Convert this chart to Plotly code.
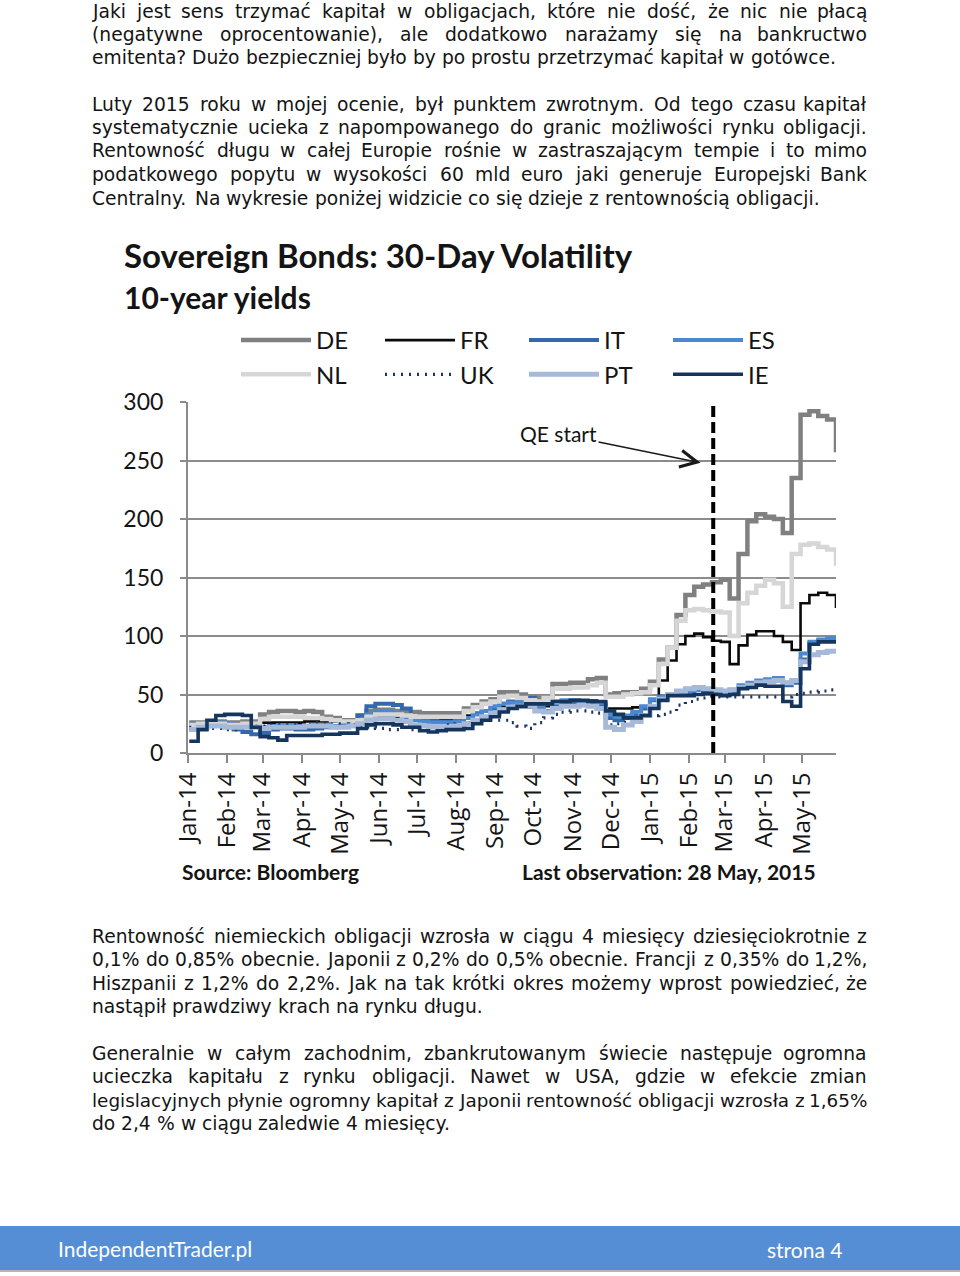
import unicodedata
import pandas as pd
import plotly.graph_objects as go

# ---------------- page geometry (pixels) ----------------
W, H = 960, 1276
PLOT_L, PLOT_R, PLOT_T, PLOT_B = 188, 836, 402, 753


def PX(px):
    return (px - PLOT_L) / (PLOT_R - PLOT_L)


def PY(py):
    return (PLOT_B - py) / (PLOT_B - PLOT_T)


# ---------------- data ----------------
week_start = "2014-01-02"          # weekly observations, Thursdays
n_weeks = 74                       # through 28 May 2015
dates = pd.date_range(week_start, periods=n_weeks, freq="7D")

de = [26, 26, 27, 27, 26, 26, 27, 27,
      33, 35, 36, 36, 35, 36, 35,
      31, 30, 28, 28, 32,
      36, 37, 37, 36, 35,
      35, 34, 34, 34, 34, 34,
      38, 41, 44, 46,
      52, 52, 50, 48, 47, 47,
      59, 59, 60, 60, 63, 64,
      50, 51, 52, 52, 55,
      61, 80, 90, 118,
      135, 142, 144, 146, 148, 132,
      170, 198, 204, 202, 200, 188, 235,
      289, 292, 288, 285, 257]
nl = [24, 25, 25, 25, 24, 24, 25, 25,
      29, 31, 31, 31, 31, 30, 30,
      29, 28, 27, 27, 28,
      31, 33, 33, 33, 32,
      31, 31, 31, 31, 31, 31,
      36, 39, 42, 44,
      48, 49, 47, 45, 44, 47,
      55, 55, 56, 56, 58, 60,
      48, 48, 50, 51, 52,
      58, 76, 90, 113,
      122, 123, 122, 121, 120, 100,
      128, 137, 143, 148, 145, 125, 170,
      178, 179, 176, 174, 160]
fr = [24, 24, 25, 25, 24, 24, 25, 25,
      26, 26, 26, 26, 26, 27, 27,
      27, 27, 26, 26, 28,
      30, 31, 31, 30, 30,
      29, 29, 28, 28, 29, 30,
      32, 34, 36, 38,
      40, 40, 39, 39, 39, 40,
      44, 44, 45, 45, 45, 44,
      38, 38, 38, 39, 40,
      45, 62, 79, 93,
      100, 102, 99, 96, 95, 76,
      92, 101, 104, 104, 100, 95, 88,
      128, 135, 137, 135, 124]
it = [20, 22, 24, 24, 22, 20, 18, 16,
      17, 20, 21, 21, 20, 20, 21,
      22, 22, 23, 26, 32,
      40, 42, 42, 41, 38,
      30, 29, 28, 27, 27, 28,
      30, 34, 36, 38,
      42, 44, 45, 47, 38, 36,
      40, 42, 43, 42, 42, 41,
      30, 28, 30, 33, 38,
      45, 48, 50, 52,
      52, 54, 53, 52, 50, 52,
      56, 58, 60, 61, 62, 58, 60,
      80, 94, 96, 97, 96]
es = [25, 25, 26, 26, 25, 24, 23, 22,
      22, 23, 24, 24, 23, 23, 24,
      24, 23, 23, 25, 28,
      33, 35, 35, 33, 30,
      28, 27, 26, 26, 26, 27,
      30, 33, 36, 40,
      42, 43, 43, 42, 40, 42,
      44, 45, 45, 44, 44, 43,
      33, 31, 32, 35, 40,
      46, 48, 50, 52,
      53, 55, 54, 53, 52, 54,
      58, 60, 62, 63, 64, 60, 62,
      85, 95, 97, 98, 97]
pt = [20, 22, 23, 23, 22, 22, 22, 22,
      21, 22, 22, 22, 22, 23, 23,
      23, 22, 22, 23, 25,
      28, 29, 29, 28, 27,
      24, 23, 22, 22, 22, 23,
      25, 28, 31, 34,
      37, 39, 40, 40, 36, 35,
      38, 40, 40, 41, 40, 38,
      22, 20, 24, 27, 32,
      40, 46, 50, 53,
      55, 56, 55, 54, 53, 54,
      56, 58, 60, 61, 62, 60, 62,
      78, 84, 86, 87, 86]
ie = [10, 20, 28, 32, 33, 33, 32, 22,
      14, 13, 11, 15, 15, 15, 15,
      16, 16, 17, 17, 21,
      24, 25, 25, 24, 22,
      22, 19, 18, 19, 20, 20,
      21, 25, 28, 31,
      35, 38, 40, 42, 42, 42,
      44, 44, 45, 45, 44, 44,
      36, 33, 30, 30, 32,
      38, 45, 49, 49,
      49, 50, 51, 50, 49, 50,
      55, 56, 58, 57, 57, 44, 40,
      72, 93, 95, 95, 94]
uk = [22, 21, 21, 21, 20, 20, 21, 23,
      23, 24, 24, 24, 24, 25, 26,
      26, 25, 25, 24, 23,
      22, 21, 20, 20, 24,
      20, 20, 20, 22, 24, 25,
      26, 27, 28, 28,
      28, 26, 23, 21, 26, 30,
      33, 35, 36, 36, 35, 34,
      24, 25, 26, 28, 31,
      32, 33, 35, 41,
      44, 46, 47, 48, 48, 48,
      48, 48, 48, 48, 48, 48, 50,
      51, 52, 53, 54, 55]

month_ticks = ["2014-01-01", "2014-02-01", "2014-03-01", "2014-04-01", "2014-05-01",
               "2014-06-01", "2014-07-01", "2014-08-01", "2014-09-01", "2014-10-01",
               "2014-11-01", "2014-12-01", "2015-01-01", "2015-02-01", "2015-03-01",
               "2015-04-01", "2015-05-01"]
month_labels = ["Jan-14", "Feb-14", "Mar-14", "Apr-14", "May-14", "Jun-14", "Jul-14",
                "Aug-14", "Sep-14", "Oct-14", "Nov-14", "Dec-14", "Jan-15", "Feb-15",
                "Mar-15", "Apr-15", "May-15"]
y_ticks = [0, 50, 100, 150, 200, 250, 300]
qe_start = "2015-02-20"
x_start, x_end = "2014-01-01", "2015-05-28"

# ---------------- series styling ----------------
series = [
    ("DE", de, "#808080", 4.5, "solid"),
    ("FR", fr, "#0a0a0a", 2.6, "solid"),
    ("IT", it, "#3468AC", 4.0, "solid"),
    ("ES", es, "#4A88CF", 4.0, "solid"),
    ("NL", nl, "#d6d6d6", 4.5, "solid"),
    ("UK", uk, "#1c3660", 3.2, "2px,6px"),
    ("PT", pt, "#a6b9d9", 5.0, "solid"),
    ("IE", ie, "#16355c", 3.6, "solid"),
]

fig = go.Figure()
for name, vals, col, wd, dash in series:
    fig.add_trace(go.Scatter(
        x=dates, y=vals, name=name, mode="lines",
        line=dict(color=col, width=wd, dash=dash, shape="hv"),
    ))

CHART_FONT = "Lato"
TXT = "#141414"

fig.update_layout(
    width=W, height=H,
    margin=dict(l=PLOT_L, r=W - PLOT_R, t=PLOT_T, b=H - PLOT_B, pad=0),
    paper_bgcolor="white", plot_bgcolor="white",
    showlegend=True,
    legend=dict(
        orientation="h", x=PX(236), xanchor="left", y=PY(318), yanchor="top",
        entrywidth=59, entrywidthmode="pixels", itemwidth=70,
        font=dict(family=CHART_FONT, size=24, color=TXT),
        bgcolor="rgba(0,0,0,0)", traceorder="normal",
    ),
    xaxis=dict(
        type="date", range=[x_start, x_end],
        tickmode="array", tickvals=month_ticks, ticktext=month_labels,
        tickangle=-90, ticks="outside", ticklen=8, tickwidth=1.5, tickcolor="#8a8a8a",
        showline=True, linecolor="#8a8a8a", linewidth=2,
        showgrid=False, zeroline=False, ticklabelstandoff=0,
        tickfont=dict(family="Open Sans", size=24, color=TXT),
    ),
    yaxis=dict(
        range=[0, 300], tickmode="array", tickvals=y_ticks,
        ticks="outside", ticklen=6, tickwidth=1.5, tickcolor="#8a8a8a",
        showline=True, linecolor="#8a8a8a", linewidth=2,
        showgrid=True, gridcolor="#8c8c8c", gridwidth=1.5,
        zeroline=False, ticklabelstandoff=12,
        tickfont=dict(family=CHART_FONT, size=23, color=TXT),
    ),
)

shapes = []
# QE start dashed vertical line
shapes.append(dict(type="line", xref="x", yref="y", x0=qe_start, x1=qe_start,
                   y0=0, y1=300, line=dict(color="black", width=4, dash="11px,5px")))
# footer bar
shapes.append(dict(type="rect", xref="paper", yref="paper", x0=PX(0), x1=PX(W),
                   y0=PY(1270), y1=PY(1226), fillcolor="#558ED5", line=dict(width=0),
                   layer="below"))
shapes.append(dict(type="line", xref="paper", yref="paper", x0=PX(0), x1=PX(W),
                   y0=PY(1271), y1=PY(1271), line=dict(color="#b5b5b5", width=2)))
fig.update_layout(shapes=shapes)

ann = []


def add_text(text, px, py, size, family, xanchor="left", color=TXT, bold=False, pad=1):
    if bold:
        text = "<b>" + text + "</b>"
    ann.append(dict(text=text, x=PX(px), y=PY(py), xref="paper", yref="paper",
                    xanchor=xanchor, yanchor="middle", showarrow=False, borderpad=pad,
                    font=dict(family=family, size=size, color=color)))


# chart titles
add_text("Sovereign Bonds: 30-Day Volatility", 122, 255, 33, CHART_FONT, bold=True)
add_text("10-year yields", 122, 297, 30, CHART_FONT, bold=True)
add_text("Source: Bloomberg", 180, 871, 21, CHART_FONT, bold=True)
add_text("Last observation: 28 May, 2015", 818, 871, 21, CHART_FONT, xanchor="right", bold=True)

# QE start arrow annotation
ann.append(dict(text="QE start", x="2015-02-10", y=248, xref="x", yref="y",
                ax=-142, ay=-29, axref="pixel", ayref="pixel",
                showarrow=True, arrowhead=5, arrowsize=2.2, arrowwidth=1.5,
                arrowcolor="#1a1a1a", standoff=0,
                font=dict(family=CHART_FONT, size=21, color=TXT)))

# footer text
add_text("IndependentTrader.pl", 56, 1248, 21, CHART_FONT, color="white")
add_text("strona 4", 844, 1249, 21, CHART_FONT, xanchor="right", color="white")

# ---------------- body text (justified word by word) ----------------
BODY_FONT = "DejaVu Sans"
BODY_SIZE = 18.7
LINE_L, LINE_R = 91, 868
MIN_GAP = 5.5
DV_W = {' ': 651, '!': 821, '%': 1946, '(': 799, ')': 799, ',': 651, '-': 739,
        '.': 651, '?': 1087, ':': 690,
        'A': 1401, 'B': 1405, 'C': 1430, 'D': 1577, 'E': 1294, 'F': 1178, 'G': 1587,
        'H': 1540, 'I': 604, 'J': 604, 'K': 1343, 'L': 1141, 'M': 1767, 'N': 1532,
        'O': 1612, 'P': 1235, 'Q': 1612, 'R': 1423, 'S': 1300, 'T': 1251, 'U': 1499,
        'V': 1401, 'W': 2025, 'X': 1403, 'Y': 1251, 'Z': 1403,
        'a': 1255, 'b': 1300, 'c': 1126, 'd': 1300, 'e': 1260, 'f': 721, 'g': 1300,
        'h': 1298, 'i': 569, 'j': 569, 'k': 1186, 'l': 569, 'm': 1995, 'n': 1298,
        'o': 1253, 'p': 1300, 'q': 1300, 'r': 842, 's': 1067, 't': 803, 'u': 1298,
        'v': 1212, 'w': 1675, 'x': 1212, 'y': 1212, 'z': 1075, 'ł': 600, 'Ł': 1180}


def char_w(c):
    if c in DV_W:
        return DV_W[c]
    if c.isdigit():
        return 1303
    base = unicodedata.normalize("NFD", c)[0]
    return DV_W.get(base, 1250)


def text_w(s, size):
    return sum(char_w(c) for c in s) * size / 2048


body_lines = [
    ("Jaki jest sens trzymać kapitał w obligacjach, które nie dość, że nic nie płacą", True, 11.5),
    ("(negatywne oprocentowanie), ale dodatkowo narażamy się na bankructwo", True, 34.5),
    ("emitenta? Dużo bezpieczniej było by po prostu przetrzymać kapitał w gotówce.", False, 57.5),
    ("Luty 2015 roku w mojej ocenie, był punktem zwrotnym. Od tego czasu kapitał", True, 104),
    ("systematycznie ucieka z napompowanego do granic możliwości rynku obligacji.", True, 127.5),
    ("Rentowność długu w całej Europie rośnie w zastraszającym tempie i to mimo", True, 151),
    ("podatkowego popytu w wysokości 60 mld euro jaki generuje Europejski Bank", True, 174.5),
    ("Centralny. Na wykresie poniżej widzicie co się dzieje z rentownością obligacji.", False, 198),
    ("Rentowność niemieckich obligacji wzrosła w ciągu 4 miesięcy dziesięciokrotnie z", True, 936),
    ("0,1% do 0,85% obecnie. Japonii z 0,2% do 0,5% obecnie. Francji z 0,35% do 1,2%,", True, 959.5),
    ("Hiszpanii z 1,2% do 2,2%. Jak na tak krótki okres możemy wprost powiedzieć, że", True, 983),
    ("nastąpił prawdziwy krach na rynku długu.", False, 1006.5),
    ("Generalnie w całym zachodnim, zbankrutowanym świecie następuje ogromna", True, 1053),
    ("ucieczka kapitału z rynku obligacji. Nawet w USA, gdzie w efekcie zmian", True, 1076.5),
    ("legislacyjnych płynie ogromny kapitał z Japonii rentowność obligacji wzrosła z 1,65%", True, 1100),
    ("do 2,4 % w ciągu zaledwie 4 miesięcy.", False, 1123.5),
]

line_w = LINE_R - LINE_L
for text, justified, py in body_lines:
    words = text.split(" ")
    fs = BODY_SIZE
    n = len(words) - 1
    widths = [text_w(w, fs) for w in words]
    if justified:
        gap = (line_w - sum(widths)) / n
        if gap < MIN_GAP:
            fs = fs * (line_w - MIN_GAP * n) / sum(widths)
            widths = [text_w(w, fs) for w in words]
            gap = (line_w - sum(widths)) / n
    else:
        gap = text_w(" ", fs)
    x = LINE_L
    for i, (w, wd) in enumerate(zip(words, widths)):
        if justified and i == n:
            add_text(w, LINE_R, py, fs, BODY_FONT, xanchor="right", pad=0)
        else:
            add_text(w, x, py, fs, BODY_FONT, pad=0)
        x += wd + gap

fig.update_layout(annotations=ann)
fig.write_html("out.html", config={"displayModeBar": False},
               post_script="document.body.style.margin='0px';")
